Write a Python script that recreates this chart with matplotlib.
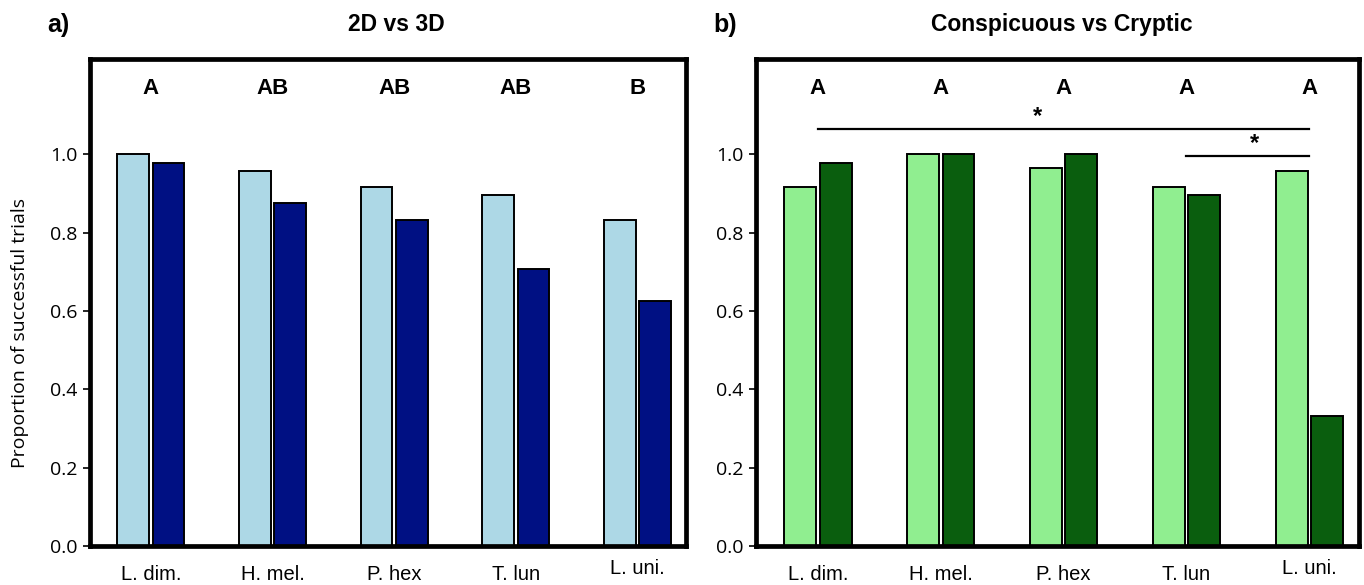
#! /bin/python3

import numpy as np
from matplotlib import pyplot as plt

# DATA
species = ["L. dim.", "H. mel.", "P. hex", "T. lun", "L. uni."]

prop_2d = [1.000, 0.958, 0.917, 0.896, 0.833]
prop_3d = [0.979, 0.875, 0.833, 0.708, 0.625]
letters_a = ["A", "AB", "AB", "AB", "B"]

prop_consp = [0.917, 1.000, 0.965, 0.917, 0.958]
prop_cryptic = [0.979, 1.000, 1.000, 0.896, 0.333]
letters_b = ["A", "A", "A", "A", "A"]

# compared species (from, to), line height, star x
sig_pairs = [(0, 4, 1.066, 1.79), (3, 4, 0.997, 3.55)]

TICK_FONT = "Open Sans"
LABEL_FONT = "Liberation Sans"


def draw_panel(ax, light, dark, c_light, c_dark, letters):
    x = np.arange(len(species))
    w = 0.26
    off = 0.145
    ax.bar(x - off, light, w, color=c_light, edgecolor="black", linewidth=1.4)
    ax.bar(x + off, dark, w, color=c_dark, edgecolor="black", linewidth=1.4)

    ax.set_xlim(-0.5, 4.4)
    ax.set_ylim(0, 1.243)

    # frame
    for side in ax.spines.values():
        side.set_linewidth(3.4)

    ax.set_yticks([0.0, 0.2, 0.4, 0.6, 0.8, 1.0])
    ax.set_yticklabels(["0.0", "0.2", "0.4", "0.6", "0.8", "1.0"],
                       fontfamily=TICK_FONT, fontsize=14)
    ax.tick_params(axis="y", direction="out", length=5, width=1.2, pad=4)

    ax.set_xticks(x)
    ax.set_xticklabels(species, fontfamily=LABEL_FONT, fontsize=14.5)
    ax.tick_params(axis="x", length=0, pad=14)
    # the last label sits a little higher
    ax.get_xticklabels()[-1].set_y(0.013)

    for xi, let in zip(x, letters):
        ax.text(xi, 1.168, let, ha="center", va="center",
                fontfamily=LABEL_FONT, fontweight="bold", fontsize=16)


fig = plt.figure(figsize=(13.64, 5.85), dpi=100)
ax1 = fig.add_axes([0.066, 0.0667, 0.437, 0.832])
ax2 = fig.add_axes([0.5545, 0.0667, 0.4415, 0.832])

draw_panel(ax1, prop_2d, prop_3d, "lightblue", "#001083", letters_a)
draw_panel(ax2, prop_consp, prop_cryptic, "lightgreen", "#0A5E0E", letters_b)

# SIGNIFICANCE LINES
for i, j, h, sx in sig_pairs:
    ax2.plot([i, j], [h, h], color="black", linewidth=1.6)
    ax2.text(sx, h + 0.032, "*", ha="center", va="center",
             fontfamily=LABEL_FONT, fontweight="bold", fontsize=17)

# TITLES
fig.text(396 / 1364, 0.958, "2D vs 3D", ha="center", va="center",
         fontfamily=LABEL_FONT, fontweight="bold", fontsize=16.5)
fig.text(1062 / 1364, 0.958, "Conspicuous vs Cryptic", ha="center",
         va="center", fontfamily=LABEL_FONT, fontweight="bold", fontsize=16.5)
fig.text(47 / 1364, 0.958, "a)", ha="left", va="center",
         fontfamily=LABEL_FONT, fontweight="bold", fontsize=18)
fig.text(713 / 1364, 0.958, "b)", ha="left", va="center",
         fontfamily=LABEL_FONT, fontweight="bold", fontsize=18)

fig.text(0.0145, 0.43, "Proportion of successful trials", rotation=90,
         ha="center", va="center", fontfamily=TICK_FONT, fontsize=14)

fig.savefig("out.png", dpi=100)
